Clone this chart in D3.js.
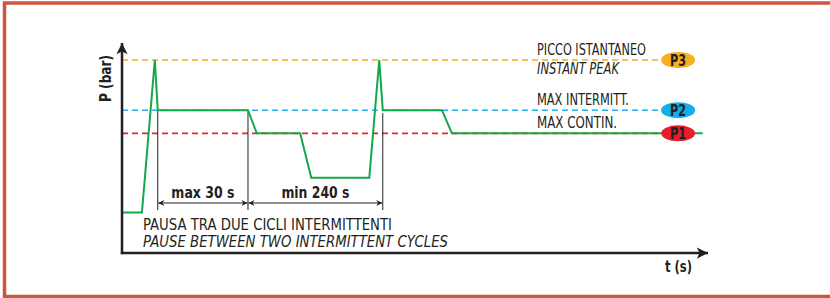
<!DOCTYPE html>
<meta charset="utf-8">
<style>
body { margin: 0; background: #fff; }
svg { display: block; font-family: "Liberation Sans Narrow", "DejaVu Sans Condensed", "Liberation Sans", sans-serif; }
.axis { stroke: #231f20; stroke-width: 2.5px; fill: none; }
.mark { stroke: #231f20; stroke-width: 1px; }
.trace { stroke: #13a84a; stroke-width: 2px; fill: none; stroke-linejoin: miter; }
</style>
<svg width="830" height="298"></svg>
<script src="https://cdn.jsdelivr.net/npm/d3@7"></script>
<script>

// pressure trace, time in arbitrary units (0-100), pressure in units with P3 = 10
var traceT = [0, 3.4, 5.6, 6.1, 21.5, 23.0, 30.4, 32.3, 42.2, 43.9, 44.5, 54.6, 56.3, 99.1];
var traceP = [2.1, 2.1, 10, 7.4, 7.4, 6.2, 6.2, 3.9, 3.9, 10, 7.4, 7.4, 6.2, 6.2];

// reference levels
var levelNames = ["P3", "P2", "P1"];
var levelValues = [10, 7.4, 6.2];
var levelColors = ["#f7a823", "#25b0ec", "#e8262e"];
var levelBadge = ["#f6b01f", "#14ade9", "#e41f2b"];
var levelText = [["PICCO ISTANTANEO", "INSTANT PEAK"], ["MAX INTERMITT."], ["MAX  CONTIN."]];
var levelTextWidth = [[109, 82], [92], [80]];

// interval markers
var markerT = [6.1, 21.5, 44.5];
var intervalLabels = ["max 30 s", "min 240 s"];
var intervalLabelWidth = [63, 68];

var svg = d3.select("svg");

var x = d3.scaleLinear().domain([0, 100]).range([122, 708]);
var y = d3.scaleLinear().domain([0, 10]).range([253, 60]);

// frame
svg.append("path")
    .attr("d", "M4.5,300 L4.5,3 L835,3 M4.5,296.5 L835,296.5")
    .attr("fill", "none")
    .attr("stroke", "#cb5641")
    .attr("stroke-width", 3.5);

var defs = svg.append("defs");
defs.append("marker")
    .attr("id", "big").attr("viewBox", "0 0 10 10")
    .attr("refX", 10).attr("refY", 5)
    .attr("markerWidth", 6).attr("markerHeight", 4.5)
    .attr("markerUnits", "strokeWidth")
    .attr("orient", "auto")
  .append("path").attr("d", "M0,0 L10,5 L0,10 L2.5,5 Z").attr("fill", "#231f20");
defs.append("marker")
    .attr("id", "small").attr("viewBox", "0 0 10 10")
    .attr("refX", 10).attr("refY", 5)
    .attr("markerWidth", 10).attr("markerHeight", 6)
    .attr("markerUnits", "strokeWidth")
    .attr("orient", "auto-start-reverse")
  .append("path").attr("d", "M0,0 L10,5 L0,10 L3,5 Z").attr("fill", "#231f20");

// dashed levels
svg.selectAll(".level")
  .data(levelValues)
  .enter().append("line")
    .attr("x1", x(0)).attr("x2", x(92.2))
    .attr("y1", function(d) { return y(d); })
    .attr("y2", function(d) { return y(d); })
    .attr("stroke", function(d, i) { return levelColors[i]; })
    .attr("stroke-width", 1.6)
    .attr("stroke-dasharray", "6,4");

// interval markers
svg.selectAll(".mark")
  .data(markerT)
  .enter().append("line")
    .attr("class", "mark")
    .attr("x1", function(d) { return x(d); })
    .attr("x2", function(d) { return x(d); })
    .attr("y1", function(d, i) { return y(7.4) + (i == 2 ? 3 : 0); })
    .attr("y2", 210);

svg.selectAll(".span")
  .data(intervalLabels)
  .enter().append("line")
    .attr("class", "mark")
    .attr("x1", function(d, i) { return x(markerT[i]) + 0.5; })
    .attr("x2", function(d, i) { return x(markerT[i + 1]) - 0.5; })
    .attr("y1", 203).attr("y2", 203)
    .attr("marker-start", "url(#small)")
    .attr("marker-end", "url(#small)");

svg.selectAll(".spanlabel")
  .data(intervalLabels)
  .enter().append("text")
    .attr("x", function(d, i) { return (x(markerT[i]) + x(markerT[i + 1])) / 2 - intervalLabelWidth[i] / 2; })
    .attr("y", 198)
    .attr("font-weight", "bold")
    .attr("font-size", 16)
    .attr("textLength", function(d, i) { return intervalLabelWidth[i]; })
    .attr("lengthAdjust", "spacingAndGlyphs")
    .attr("fill", "#231f20")
    .text(function(d) { return d; });

// trace
var line = d3.line()
    .x(function(d) { return x(d[0]); })
    .y(function(d) { return y(d[1]); });
svg.append("path")
    .datum(d3.zip(traceT, traceP))
    .attr("class", "trace")
    .attr("d", line);

// axes
svg.append("line").attr("class", "axis")
    .attr("x1", x(0)).attr("y1", y(0) + 1.2)
    .attr("x2", x(0)).attr("y2", 43)
    .attr("marker-end", "url(#big)");
svg.append("line").attr("class", "axis")
    .attr("x1", x(0) - 1.2).attr("y1", y(0))
    .attr("x2", x(100)).attr("y2", y(0))
    .attr("marker-end", "url(#big)");

svg.append("text")
    .attr("transform", "translate(111,102) rotate(-90)")
    .attr("font-weight", "bold").attr("font-size", 16)
    .attr("textLength", 47).attr("lengthAdjust", "spacingAndGlyphs")
    .attr("fill", "#231f20")
    .text("P (bar)");
svg.append("text")
    .attr("x", 665).attr("y", 272)
    .attr("font-weight", "bold").attr("font-size", 16)
    .attr("textLength", 27).attr("lengthAdjust", "spacingAndGlyphs")
    .attr("fill", "#231f20")
    .text("t (s)");

// level labels
levelText.forEach(function(lines, i) {
  lines.forEach(function(t, j) {
    svg.append("text")
        .attr("x", 537)
        .attr("y", y(levelValues[i]) - 5 + j * 19)
        .attr("font-size", 15)
        .attr("font-style", j == 1 ? "italic" : null)
        .attr("textLength", levelTextWidth[i][j])
        .attr("lengthAdjust", "spacingAndGlyphs")
        .attr("fill", "#231f20")
        .text(t);
  });
});

// badges
var badge = svg.selectAll(".badge")
  .data(levelNames)
  .enter().append("g")
    .attr("transform", function(d, i) { return "translate(" + x(94.9) + "," + y(levelValues[i]) + ")"; });
badge.append("ellipse")
    .attr("rx", 17).attr("ry", 8)
    .attr("fill", function(d, i) { return levelBadge[i]; });
badge.append("text")
    .attr("x", -8).attr("y", 6)
    .attr("font-weight", "bold").attr("font-size", 16)
    .attr("textLength", 16).attr("lengthAdjust", "spacingAndGlyphs")
    .attr("fill", "#231f20")
    .text(function(d) { return d; });

// notes
svg.append("text")
    .attr("x", 143).attr("y", 230)
    .attr("font-size", 15.5).attr("fill", "#231f20")
    .attr("textLength", 249).attr("lengthAdjust", "spacingAndGlyphs")
    .text("PAUSA TRA DUE CICLI INTERMITTENTI");
svg.append("text")
    .attr("x", 143).attr("y", 247)
    .attr("font-size", 15.5).attr("font-style", "italic").attr("fill", "#231f20")
    .attr("textLength", 305).attr("lengthAdjust", "spacingAndGlyphs")
    .text("PAUSE BETWEEN TWO INTERMITTENT CYCLES");

</script>
